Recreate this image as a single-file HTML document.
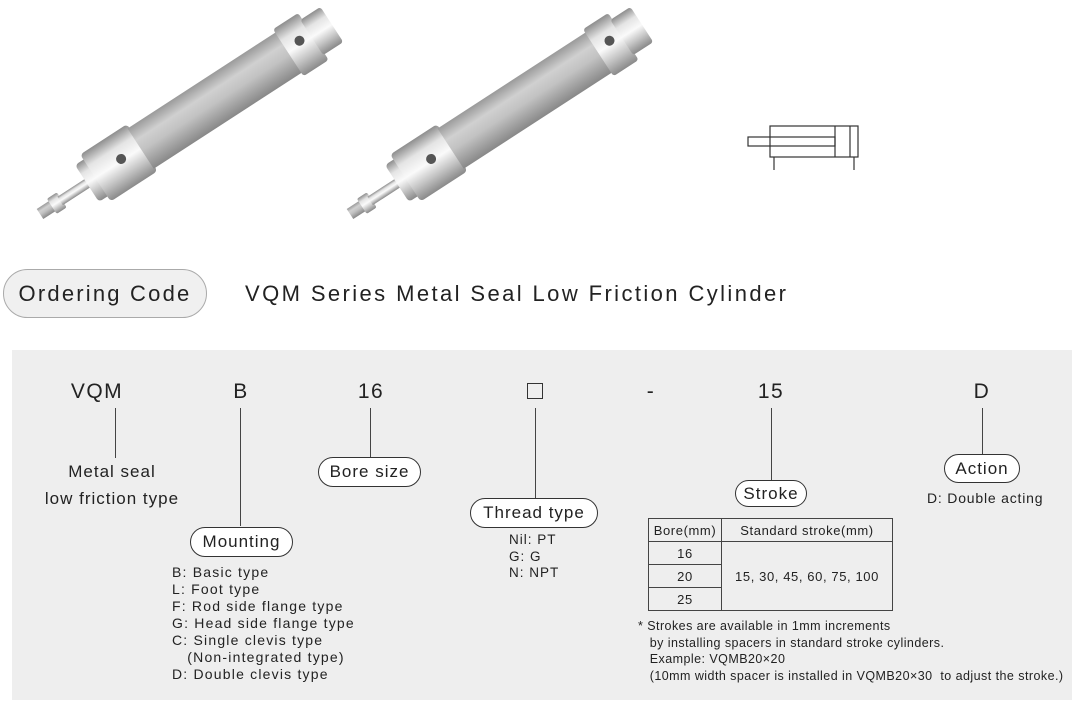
<!DOCTYPE html>
<html><head><meta charset="utf-8"><style>
body{margin:0;width:1080px;height:709px;background:#fff;position:relative;overflow:hidden;font-family:"Liberation Sans",Arial,sans-serif;color:#222}
.a{position:absolute;white-space:nowrap}
.pill{position:absolute;background:#fff;border:1.3px solid #333;border-radius:16px;box-sizing:border-box;text-align:center;font-size:17px;color:#222;letter-spacing:1px}
.code{position:absolute;font-size:21px;transform:translateX(-50%);top:380px;letter-spacing:1.5px}
.vl{position:absolute;width:1.3px;background:#444}
.list{position:absolute;font-size:14px;line-height:17px;letter-spacing:1.2px}
table{border-collapse:collapse;font-size:13px;letter-spacing:.6px}
td{border:1.2px solid #444;text-align:center;padding:0;height:22px}
</style></head><body>
<svg class="a" style="left:0;top:0" width="1080" height="240">
<defs>
<linearGradient id="g" x1="0" y1="0" x2="0" y2="1">
<stop offset="0" stop-color="#8e8e8e"/><stop offset=".25" stop-color="#e4e4e4"/><stop offset=".5" stop-color="#fafafa"/><stop offset=".75" stop-color="#c4c4c4"/><stop offset="1" stop-color="#8a8a8a"/></linearGradient>
<linearGradient id="g2" x1="0" y1="0" x2="0" y2="1">
<stop offset="0" stop-color="#9a9a9a"/><stop offset=".3" stop-color="#d0d0d0"/><stop offset=".55" stop-color="#c2c2c2"/><stop offset="1" stop-color="#888"/></linearGradient>
<g id="cyl">
<rect x="0" y="-6" width="16" height="12" fill="url(#g2)"/>
<rect x="14" y="-9" width="12" height="18" rx="2" fill="url(#g)"/>
<rect x="24" y="-5" width="34" height="10" fill="url(#g)"/>
<rect x="56" y="-22" width="14" height="44" rx="4" fill="url(#g)"/>
<rect x="66" y="-28" width="56" height="56" rx="4" fill="url(#g)"/>
<circle cx="98" cy="-2" r="5" fill="#555"/>
<rect x="120" y="-24" width="178" height="48" fill="url(#g2)"/>
<rect x="296" y="-28" width="30" height="56" rx="3" fill="url(#g)"/>
<circle cx="312" cy="-4" r="5" fill="#555"/>
<rect x="324" y="-21" width="24" height="42" rx="3" fill="url(#g)"/>
</g></defs>
<use href="#cyl" transform="translate(40,214) rotate(-33)"/>
<use href="#cyl" transform="translate(350,214) rotate(-33)"/>
<g fill="none" stroke="#333" stroke-width="1.2">
<rect x="770" y="126" width="88" height="31"/>
<rect x="748" y="137" width="87" height="9"/>
<line x1="835" y1="126" x2="835" y2="157"/><line x1="850" y1="126" x2="850" y2="157"/>
<line x1="774" y1="157" x2="774" y2="170"/><line x1="854" y1="157" x2="854" y2="170"/>
</g>
</svg>
<div class="pill" style="left:3px;top:269px;width:204px;height:49px;background:#f0f0f0;border-color:#aaa;border-radius:25px;font-size:22px;line-height:47px;letter-spacing:2.2px">Ordering Code</div>
<div class="a" style="left:245px;top:281px;font-size:22px;letter-spacing:2.4px">VQM Series Metal Seal Low Friction Cylinder</div>
<div class="a" style="left:12px;top:350px;width:1060px;height:350px;background:#eeeeee"></div>

<div class="code" style="left:97px">VQM</div>
<div class="code" style="left:241px">B</div>
<div class="code" style="left:371px">16</div>
<div class="a" style="left:527px;top:383px;width:16px;height:16px;border:1.3px solid #333;box-sizing:border-box"></div>
<div class="code" style="left:651px">-</div>
<div class="code" style="left:771px">15</div>
<div class="code" style="left:982px">D</div>

<div class="vl" style="left:115px;top:408px;height:50px"></div>
<div class="vl" style="left:240px;top:408px;height:118px"></div>
<div class="vl" style="left:370px;top:408px;height:49px"></div>
<div class="vl" style="left:535px;top:408px;height:90px"></div>
<div class="vl" style="left:771px;top:408px;height:73px"></div>
<div class="vl" style="left:982px;top:408px;height:46px"></div>

<div class="a" style="left:40px;top:458px;width:144px;text-align:center;font-size:17px;line-height:27px;letter-spacing:1px">Metal seal<br>low friction type</div>
<div class="pill" style="left:190px;top:527px;width:103px;height:30px;line-height:28px">Mounting</div>
<div class="list" style="left:172px;top:564px">B: Basic type<br>L: Foot type<br>F: Rod side flange type<br>G: Head side flange type<br>C: Single clevis type<br>&nbsp;&nbsp;&nbsp;(Non-integrated type)<br>D: Double clevis type</div>
<div class="pill" style="left:318px;top:457px;width:103px;height:30px;line-height:28px">Bore size</div>
<div class="pill" style="left:470px;top:498px;width:128px;height:30px;line-height:28px">Thread type</div>
<div class="list" style="left:509px;top:532px;line-height:16.5px;font-size:13.5px;letter-spacing:1px">Nil: PT<br>G: G<br>N: NPT</div>
<div class="pill" style="left:735px;top:480px;width:72px;height:27px;line-height:25px">Stroke</div>
<div class="pill" style="left:944px;top:454px;width:76px;height:29px;line-height:27px">Action</div>
<div class="a" style="left:927px;top:490px;font-size:14px;letter-spacing:.8px">D: Double acting</div>

<table class="a" style="left:648px;top:518px;width:245px">
<tr><td style="width:72px">Bore(mm)</td><td>Standard stroke(mm)</td></tr>
<tr><td>16</td><td rowspan="3">15, 30, 45, 60, 75, 100</td></tr>
<tr><td>20</td></tr><tr><td>25</td></tr>
</table>
<div class="list" style="left:638px;top:618px;font-size:12.5px;line-height:16.7px;letter-spacing:.45px">* Strokes are available in 1mm increments<br>&nbsp;&nbsp;&nbsp;by installing spacers in standard stroke cylinders.<br>&nbsp;&nbsp;&nbsp;Example: VQMB20×20<br>&nbsp;&nbsp;&nbsp;(10mm width spacer is installed in VQMB20×30&nbsp; to adjust the stroke.)</div>
</body></html>
